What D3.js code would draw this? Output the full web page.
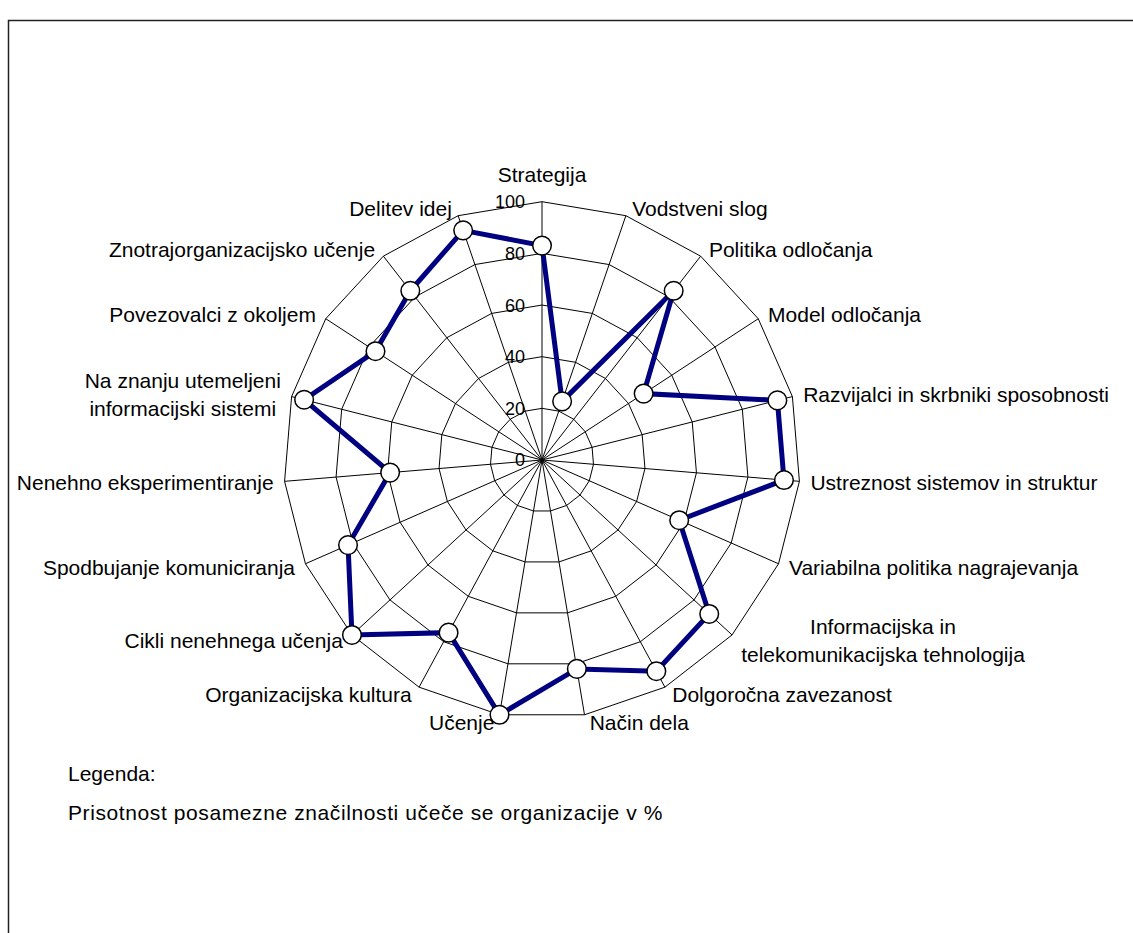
<!DOCTYPE html>
<html>
<head>
<meta charset="utf-8">
<script src="https://cdn.jsdelivr.net/npm/d3@7"></script>
<style>
  html, body { margin: 0; padding: 0; background: #fff; }
  text { font-family: "Liberation Sans", Arial, sans-serif; fill: #000; }
</style>
</head>
<body>
<svg id="chart" width="1133" height="933"></svg>
<script>
// Radar axes, clockwise from the top ("\n" splits a label over two lines)
const categories = [
  "Strategija",
  "Vodstveni slog",
  "Politika odločanja",
  "Model odločanja",
  "Razvijalci in skrbniki sposobnosti",
  "Ustreznost sistemov in struktur",
  "Variabilna politika nagrajevanja",
  "Informacijska in\ntelekomunikacijska tehnologija",
  "Dolgoročna zavezanost",
  "Način dela",
  "Učenje",
  "Organizacijska kultura",
  "Cikli nenehnega učenja",
  "Spodbujanje komuniciranja",
  "Nenehno eksperimentiranje",
  "Na znanju utemeljeni\ninformacijski sistemi",
  "Povezovalci z okoljem",
  "Znotrajorganizacijsko učenje",
  "Delitev idej"
];

// Presence of each characteristic, in %
const values = [83, 24, 83, 47, 94, 94, 58, 88, 93, 82, 100, 76, 100, 82, 59, 95, 77, 83, 94];

const tickValues = [0, 20, 40, 60, 80, 100];

const legendTitle = "Legenda:";
const seriesName = "Prisotnost posamezne značilnosti učeče se organizacije v %";

// ---- layout ----
const width = 1133, height = 933;
const cx = 542, cy = 460, R = 258.3;
const labelSize = 21, tickSize = 18;

const svg = d3.select("#chart");
svg.append("rect").attr("width", width).attr("height", height).attr("fill", "#fff");

// outer frame (open to the right and bottom)
svg.append("rect")
  .attr("x", 8.5).attr("y", 20.5)
  .attr("width", width + 20).attr("height", height + 20)
  .attr("fill", "none").attr("stroke", "#222").attr("stroke-width", 1.5);

const n = categories.length;
const angle = d3.scaleLinear().domain([0, n]).range([0, 2 * Math.PI]);
const r = d3.scaleLinear().domain([0, 100]).range([0, R]);

const g = svg.append("g").attr("transform", `translate(${cx},${cy})`);

// polygonal grid rings
const ringLine = d3.lineRadial().curve(d3.curveLinearClosed);
g.append("g").selectAll("path")
  .data(tickValues.filter(t => t > 0))
  .join("path")
  .attr("d", t => ringLine(d3.range(n).map(i => [angle(i), r(t)])))
  .attr("fill", "none").attr("stroke", "#000").attr("stroke-width", 1);

// spokes
const pt = (i, v) => {
  const a = angle(i);
  return [Math.sin(a) * r(v), -Math.cos(a) * r(v)];
};
g.append("g").selectAll("line")
  .data(d3.range(n))
  .join("line")
  .attr("x1", 0).attr("y1", 0)
  .attr("x2", i => pt(i, 100)[0]).attr("y2", i => pt(i, 100)[1])
  .attr("stroke", "#000").attr("stroke-width", 1);

// value labels along the vertical axis
g.append("g").selectAll("text")
  .data(tickValues)
  .join("text")
  .attr("x", -17)
  .attr("y", t => -r(t) + tickSize * 0.36)
  .attr("text-anchor", "end")
  .attr("font-size", tickSize)
  .text(t => t);

// data polygon
const dataLine = d3.lineRadial()
  .angle((d, i) => angle(i))
  .radius(d => r(d))
  .curve(d3.curveLinearClosed);
g.append("path")
  .datum(values)
  .attr("d", dataLine)
  .attr("fill", "none")
  .attr("stroke", "#000080")
  .attr("stroke-width", 5)
  .attr("stroke-linejoin", "miter");

// markers
g.append("g").selectAll("circle")
  .data(values)
  .join("circle")
  .attr("cx", (d, i) => pt(i, d)[0])
  .attr("cy", (d, i) => pt(i, d)[1])
  .attr("r", 9.3)
  .attr("fill", "#fff")
  .attr("stroke", "#000")
  .attr("stroke-width", 1.5);

// category labels
const lineH = 28;
const labels = g.append("g");
categories.forEach((label, i) => {
  const a = angle(i);
  const s = Math.sin(a), c = Math.cos(a);
  const [ex, ey] = pt(i, 100);
  const lines = label.split("\n");
  const t = labels.append("text").attr("font-size", labelSize);
  const tspans = lines.map(l => t.append("tspan").text(l));
  const widths = tspans.map(ts => ts.node().getComputedTextLength());
  const blockW = d3.max(widths);

  let midY, anchorX, anchor;
  if (Math.abs(s) < 0.1) {
    anchor = "middle";
    anchorX = ex;
    midY = ey - c * 27;
  } else {
    const dx = Math.sign(s) * 4 + s * 7;
    anchorX = ex + dx;
    anchor = s > 0 ? "start" : "end";
    midY = ey - c * 8;
  }
  // centre each line inside the block
  const blockCenter = anchor === "start" ? anchorX + blockW / 2
                    : anchor === "end" ? anchorX - blockW / 2 : anchorX;
  const top = midY - (lines.length - 1) * lineH / 2;
  tspans.forEach((ts, k) => {
    ts.attr("x", blockCenter)
      .attr("y", top + k * lineH + labelSize * 0.36)
      .attr("text-anchor", "middle");
  });
});

// legend text
svg.append("text")
  .attr("x", 68).attr("y", 773 + labelSize * 0.36)
  .attr("font-size", labelSize).text(legendTitle);
svg.append("text")
  .attr("x", 68).attr("y", 812 + labelSize * 0.36)
  .attr("font-size", labelSize)
  .attr("letter-spacing", 0.6)
  .text(seriesName);
</script>
</body>
</html>
